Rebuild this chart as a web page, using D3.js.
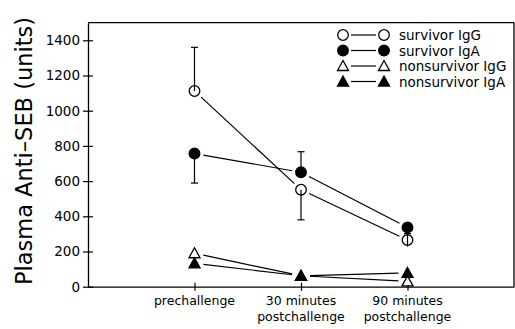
<!DOCTYPE html>
<html>
<head>
<meta charset="utf-8">
<script src="https://cdn.jsdelivr.net/npm/d3@7"></script>
<style>
body { margin: 0; background: #fff; }
svg { display: block; font-family: "DejaVu Sans", sans-serif; }
</style>
</head>
<body>
<script>
// categories on the x axis (line breaks split the label)
const categories = ["prechallenge", "30 minutes\npostchallenge", "90 minutes\npostchallenge"];
const yTicks = [0, 200, 400, 600, 800, 1000, 1200, 1400];

// series values, one per category
const survivorIgG = [1112, 551, 265];
const survivorIgA = [757, 650, 337];
const nonsurvivorIgG = [190, 62, 30];
const nonsurvivorIgA = [133, 62, 78];

// error bars: [category index, from value, to value]
const errSurvivorIgG = [[0, 1112, 1360], [1, 551, 380], [2, 228, 302]];
const errSurvivorIgA = [[0, 757, 589], [1, 650, 767]];

const seriesNames = ["survivor IgG", "survivor IgA", "nonsurvivor IgG", "nonsurvivor IgA"];

const series = [
    {name: seriesNames[0], values: survivorIgG, shape: "circle", filled: false},
    {name: seriesNames[1], values: survivorIgA, shape: "circle", filled: true},
    {name: seriesNames[2], values: nonsurvivorIgG, shape: "triangle", filled: false},
    {name: seriesNames[3], values: nonsurvivorIgA, shape: "triangle", filled: true}
];

const w = 515, h = 329;
const plotLeft = 88, plotRight = 514, plotTop = 22.7, plotBottom = 286.7;

const svg = d3.select("body").append("svg").attr("width", w).attr("height", h);

const xScale = d3.scaleLinear().domain([0, 4]).range([plotLeft, plotRight]);
const yScale = d3.scaleLinear().domain([0, 1500]).range([plotBottom, plotTop]);

//frame: top and right edge
svg.append("line").attr("x1", plotLeft).attr("x2", plotRight).attr("y1", plotTop).attr("y2", plotTop)
    .attr("stroke", "#000").attr("stroke-width", 1.3);
svg.append("line").attr("x1", plotRight).attr("x2", plotRight).attr("y1", plotTop).attr("y2", plotBottom)
    .attr("stroke", "#000").attr("stroke-width", 1.3);

//y axis, ticks crossing the line
const yAxis = d3.axisLeft(yScale).tickValues(yTicks).tickFormat(d3.format("d"))
    .tickSize(5).tickPadding(3).tickSizeOuter(0);
const gy = svg.append("g").attr("transform", "translate(" + plotLeft + ",0)").call(yAxis);
gy.select(".domain").attr("stroke-width", 1.3);
gy.selectAll(".tick line").attr("x2", -5).attr("x1", 5).attr("stroke-width", 1.2);
gy.selectAll(".tick text").attr("font-size", 13.5).attr("font-family", "DejaVu Sans, sans-serif").attr("fill", "#000");

//x axis
const xAxis = d3.axisBottom(xScale).tickValues([1, 2, 3]).tickSize(4).tickSizeOuter(0).tickFormat("");
const gx = svg.append("g").attr("transform", "translate(0," + plotBottom + ")").call(xAxis);
gx.select(".domain").attr("stroke-width", 1.3);
gx.selectAll(".tick line").attr("y1", -4).attr("y2", 4).attr("stroke-width", 1.2);

svg.append("g").selectAll("text")
    .data(categories)
    .enter()
    .append("text")
    .attr("x", (d, i) => xScale(i + 1))
    .attr("y", 305)
    .attr("text-anchor", "middle")
    .attr("font-size", 12.5)
    .selectAll("tspan")
    .data((d) => d.split("\n"))
    .enter()
    .append("tspan")
    .attr("x", function() { return this.parentNode.getAttribute("x"); })
    .attr("dy", (d, i) => i === 0 ? 0 : 16)
    .text((d) => d);

//y axis title
svg.append("text")
    .attr("transform", "translate(32,151) rotate(-90)")
    .attr("text-anchor", "middle")
    .attr("font-size", 22.5)
    .attr("fill", "#000")
    .text("Plasma Anti\u2013SEB (units)");

//error bars
const errData = errSurvivorIgG.concat(errSurvivorIgA);
const err = svg.append("g").attr("stroke", "#000").attr("stroke-width", 1.2);
errData.forEach((e) => {
    const cx = xScale(e[0] + 1);
    err.append("line").attr("x1", cx).attr("x2", cx).attr("y1", yScale(e[1])).attr("y2", yScale(e[2]));
    err.append("line").attr("x1", cx - 3.5).attr("x2", cx + 3.5).attr("y1", yScale(e[2])).attr("y2", yScale(e[2]));
});

//connecting lines, stopping short of the markers
const gap = 9;
function gapLine(g, x1, y1, x2, y2, gp) {
    const dx = x2 - x1, dy = y2 - y1, len = Math.sqrt(dx * dx + dy * dy);
    const ux = dx / len, uy = dy / len;
    g.append("line")
        .attr("x1", x1 + ux * gp).attr("y1", y1 + uy * gp)
        .attr("x2", x2 - ux * gp).attr("y2", y2 - uy * gp)
        .attr("stroke", "#000").attr("stroke-width", 1.2);
}
const lines = svg.append("g");
series.forEach((s) => {
    for (let i = 0; i < s.values.length - 1; i++) {
        gapLine(lines, xScale(i + 1), yScale(s.values[i]), xScale(i + 2), yScale(s.values[i + 1]), gap);
    }
});

//markers
function drawMarker(g, s, cx, cy) {
    if (s.shape === "circle") {
        g.append("circle").attr("cx", cx).attr("cy", cy).attr("r", 5.3)
            .attr("fill", s.filled ? "#000" : "none").attr("stroke", "#000").attr("stroke-width", 1.3);
    } else {
        g.append("path")
            .attr("d", "M" + cx + "," + (cy - 5.5) + "L" + (cx + 5.5) + "," + (cy + 4.5) + "L" + (cx - 5.5) + "," + (cy + 4.5) + "Z")
            .attr("fill", s.filled ? "#000" : "#fff").attr("stroke", "#000").attr("stroke-width", 1.3);
    }
}
const marks = svg.append("g");
series.forEach((s) => {
    s.values.forEach((v, i) => drawMarker(marks, s, xScale(i + 1), yScale(v)));
});

//legend
const legend = svg.append("g");
series.forEach((s, i) => {
    const ly = 35 + i * 15.5;
    drawMarker(legend, s, 343, ly);
    legend.append("line").attr("x1", 351).attr("x2", 376).attr("y1", ly).attr("y2", ly)
        .attr("stroke", "#000").attr("stroke-width", 1.2);
    drawMarker(legend, s, 384, ly);
    legend.append("text").attr("x", 399).attr("y", ly + 5).attr("font-size", 13.5).text(s.name);
});
</script>
</body>
</html>
